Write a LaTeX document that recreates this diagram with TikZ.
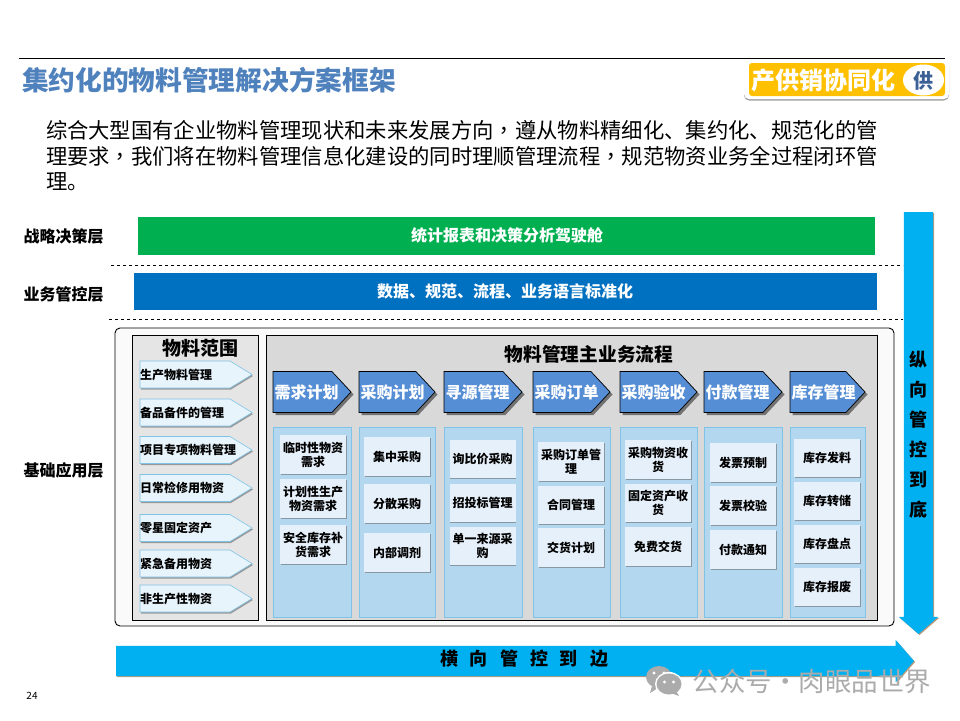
\documentclass[tikz,border=0pt]{standalone}
\usepackage{fontspec}
\setmainfont{Noto Sans CJK SC}
\newfontfamily\commafont{Noto Sans CJK TC}
\usetikzlibrary{positioning, shapes.arrows, shapes.symbols, shapes.geometric, shadows}

\definecolor{titleblue}{HTML}{4F81BD}
\definecolor{tagyellow}{HTML}{FFC000}
\definecolor{tagblue}{HTML}{3B6095}
\definecolor{cockgreen}{HTML}{00B050}
\definecolor{ctrlblue}{HTML}{0070C0}
\definecolor{skyarrow}{HTML}{00B0F0}
\definecolor{headblue}{HTML}{558ED5}
\definecolor{colblue}{HTML}{B3D7EE}
\definecolor{coledge}{HTML}{7FC3E6}
\definecolor{itemblue}{HTML}{E6F0FA}
\definecolor{rangeblue}{HTML}{E8F4FC}
\definecolor{markgray}{HTML}{ABABAB}

\begin{document}
\begin{tikzpicture}[
    x=1pt, y=-1pt,
    every node/.style={align=center, inner sep=0pt, outer sep=0pt},
    layerlabel/.style={font=\fontsize{16}{19}\selectfont\bfseries},
    bandbox/.style={text=white, font=\fontsize{16}{19}\selectfont\bfseries},
    panelbox/.style={draw=black, line width=0.9pt},
    paneltitle/.style={font=\fontsize{19}{22}\selectfont\bfseries},
    rangearrow/.style={signal, signal to=east, signal pointer angle=63, fill=rangeblue, draw=coledge, line width=0.6pt,
        minimum width=112pt, minimum height=27pt, anchor=west,
        drop shadow={shadow xshift=1pt, shadow yshift=-1.5pt, fill=black!60, opacity=0.6}},
    rangelabel/.style={anchor=west, font=\fontsize{12}{14}\selectfont\bfseries},
    headarrow/.style={signal, signal to=east, signal pointer angle=94, fill=headblue, draw=black, line width=0.7pt,
        minimum width=78pt, minimum height=41pt, anchor=west,
        drop shadow={shadow xshift=2.5pt, shadow yshift=-2.5pt, fill=black!65, opacity=0.8}},
    headlabel/.style={text=white, font=\fontsize{16}{19}\selectfont\bfseries},
    colbox/.style={fill=colblue, draw=coledge, line width=0.6pt, minimum height=190pt,
        drop shadow={shadow xshift=0.5pt, shadow yshift=-1.2pt, fill=black!50, opacity=0.5}},
    itembox/.style={fill=itemblue, minimum width=66pt, minimum height=38.5pt,
        font=\fontsize{12}{14}\selectfont\bfseries,
        drop shadow={shadow xshift=0.5pt, shadow yshift=-1.2pt, fill=black!60, opacity=0.55}},
    bigarrow/.style={single arrow, fill=skyarrow, single arrow tip angle=98, anchor=tail,
        drop shadow={shadow xshift=1pt, shadow yshift=-1pt, fill=brown!60!gray, opacity=0.8}},
    biglabel/.style={font=\fontsize{18}{30}\selectfont\bfseries}
]
\useasboundingbox (0,0) rectangle (960,720);

% =========================================================
% Title, tag and intro text
% =========================================================
\coordinate (ruleL) at (19,58);
\coordinate (ruleR) at (945,58);
\draw[line width=0.9pt] (ruleL) -- (ruleR);

\node[anchor=west, text=titleblue, font=\fontsize{26.7}{30}\selectfont\bfseries] (title) at (22,80) {集约化的物料管理解决方案框架};

\node[fill=white, rounded corners=5pt, minimum width=205pt, minimum height=39pt,
    drop shadow={shadow xshift=0pt, shadow yshift=-1.5pt, fill=black!60, opacity=0.6}] (tagback) at (846.5,79.5) {};
\node[fill=tagyellow, rounded corners=3pt, minimum width=196pt, minimum height=33pt] (tag) at (847,79.5) {};
\node[fill=white, ellipse, minimum width=41pt, minimum height=31pt] (tagdot) at (923.5,80) {};
\node[text=white, font=\fontsize{24}{28}\selectfont\bfseries] (tagtext) at (823,80) {产供销协同化};
\node[text=tagblue, font=\fontsize{20}{24}\selectfont\bfseries] (tagmark) at (923.5,81) {供};

\node[anchor=north west, align=left, font=\fontsize{21.33}{25.5}\selectfont] (intro) at (46,120.5) {%
    综合大型国有企业物料管理现状和未来发展方向{\commafont ，}遵从物料精细化、集约化、规范化的管\\
    理要求{\commafont ，}我们将在物料管理信息化建设的同时理顺管理流程{\commafont ，}规范物资业务全过程闭环管\\
    理。};

% =========================================================
% Upper layers
% =========================================================
\node[layerlabel] (layerA) at (63.5,236) {战略决策层};
\node[layerlabel] (layerB) at (63.5,294) {业务管控层};
\node[layerlabel] (layerC) at (63.5,470) {基础应用层};

\node[bandbox, fill=cockgreen, minimum width=737pt, minimum height=38pt] (cockpit) at (506.5,236) {};
\node[bandbox] (cockpitText) at (507,235) {统计报表和决策分析驾驶舱};
\node[bandbox, fill=ctrlblue, minimum width=743pt, minimum height=37pt] (norm) at (505.5,291.5) {};
\node[bandbox] (normText) at (505,291) {数据、规范、流程、业务语言标准化};

% dashed separators
\coordinate (sepAL) at (111,265);
\coordinate (sepAR) at (903,265);
\coordinate (sepBL) at (109,319);
\coordinate (sepBR) at (903,319);
\draw[dashed, line width=0.7pt] (sepAL) -- (sepAR);
\draw[dashed, line width=0.7pt] (sepBL) -- (sepBR);

% =========================================================
% Base layer frame
% =========================================================
\node[draw=black, line width=0.9pt, fill=black!2, rounded corners=5pt, minimum width=779pt, minimum height=298pt] (frame) at (504.5,477) {};
\node[panelbox, fill=black!10, minimum width=126pt, minimum height=285pt] (rangePanel) at (195,477.5) {};
\node[panelbox, fill=black!15, minimum width=611pt, minimum height=285pt] (flowPanel) at (571.5,477.5) {};
\node[paneltitle] (rangeTitle) at (200.5,348) {物料范围};
\node[paneltitle, font=\fontsize{18.7}{22}\selectfont\bfseries] (flowTitle) at (589,354) {物料管理主业务流程};

% Material range arrows
\foreach \i/\y/\label in {1/374.5/生产物料管理, 2/412.5/备品备件的管理, 3/450/项目专项物料管理, 4/488/日常检修用物资,
    5/528/零星固定资产, 6/563.5/紧急备用物资, 7/598.5/非生产性物资} {
    \node[rangearrow] (range\i) at (140,\y) {};
    \node[rangelabel] (rangeText\i) at (140,\y) {\label};
}

% Process headers and columns
\foreach \i/\x/\w/\label in {1/273/78/需求计划, 2/359/76/采购计划, 3/444/78/寻源管理, 4/533/77/采购订单,
    5/620/77/采购验收, 6/704/78/付款管理, 7/790/75/库存管理} {
    \node[headarrow, minimum width=\w pt] (head\i) at (\x,392) {};
    \node[headlabel, anchor=west] (headText\i) at (\x+1.5,392) {\label};
    \node[colbox, minimum width=\w pt, anchor=north west] (col\i) at (\x+0.5,427) {};
}

% Process items
\foreach \c/\n/\x/\y/\label in {
    1/1/313/454.5/{临时性物资\\需求}, 1/2/313/498.5/{计划性生产\\物资需求}, 1/3/313/544.5/{安全库存补\\货需求},
    2/1/397/456.5/集中采购, 2/2/397/503.5/分散采购, 2/3/397/552.5/内部调剂,
    3/1/482.5/459/询比价采购, 3/2/482.5/503/招投标管理, 3/3/482.5/546/{单一来源采\\购},
    4/1/571/461.5/{采购订单管\\理}, 4/2/571/505/合同管理, 4/3/571/547.5/交货计划,
    5/1/658/459.5/{采购物资收\\货}, 5/2/658/503/{固定资产收\\货}, 5/3/658/546.5/免费交货,
    6/1/743/462.5/发票预制, 6/2/743/505.5/发票校验, 6/3/743/549.5/付款通知,
    7/1/827/458/库存发料, 7/2/827/501/库存转储, 7/3/827/544/库存盘点, 7/4/827/587/库存报废} {
    \node[itembox] (item\c\n) at (\x,\y) {\label};
}

% =========================================================
% Control arrows
% =========================================================
\node[bigarrow, shape border rotate=270, inner sep=14.5pt, minimum height=422pt, minimum width=39pt, single arrow head extend=5pt] (vArrow) at (918.5,212) {};
\node[biglabel] (vText) at (918.5,434.5) {纵\\向\\管\\控\\到\\底};

\node[bigarrow, inner ysep=15pt, minimum height=798pt, minimum width=42pt, single arrow head extend=6pt] (hArrow) at (116,661) {};
\node[biglabel] (hText) at (524,659) {横\hspace{12pt}向\hspace{12pt}管\hspace{12pt}控\hspace{12pt}到\hspace{12pt}边};

% =========================================================
% Page number and watermark
% =========================================================
\node[font=\fontsize{10}{12}\selectfont] (pageNo) at (32,696) {24};

\fill[markgray] (659,677) ellipse (13pt and 11pt);
\fill[markgray] (652,686) -- (650,693) -- (658,688) -- cycle;
\fill[white] (654,673) circle (1.7pt) (664,673) circle (1.7pt);
\fill[white] (669,684) ellipse (14pt and 12pt);
\fill[markgray] (669,684) ellipse (12.5pt and 10.5pt);
\fill[markgray] (676,691) -- (679,696) -- (671,693) -- cycle;
\fill[white] (664.5,682) circle (1.6pt) (673.5,682) circle (1.6pt);
\node[anchor=east, text=markgray, font=\fontsize{26.5}{30}\selectfont] (mark) at (931,681) {公众号·肉眼品世界};

\end{tikzpicture}
\end{document}
